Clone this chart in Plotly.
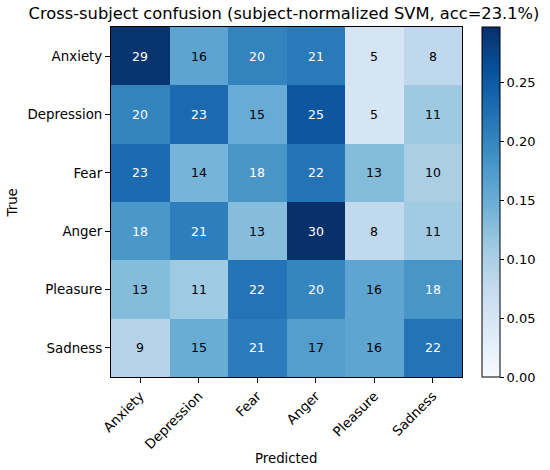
import plotly.graph_objects as go

classes = ["Anxiety", "Depression", "Fear", "Anger", "Pleasure", "Sadness"]
counts = [
    [29, 16, 20, 21, 5, 8],
    [20, 23, 15, 25, 5, 11],
    [23, 14, 18, 22, 13, 10],
    [18, 21, 13, 30, 8, 11],
    [13, 11, 22, 20, 16, 18],
    [9, 15, 21, 17, 16, 22],
]
title_text = "Cross-subject confusion (subject-normalized SVM, acc=23.1%)"
x_label = "Predicted"
y_label = "True"
cbar_ticks = [0.0, 0.05, 0.10, 0.15, 0.20, 0.25]

z = [[c / sum(row) for c in row] for row in counts]
zmax = max(max(r) for r in z)
zmin_val = min(min(r) for r in z)
thresh = (zmax + zmin_val) / 2

blues = ["#f7fbff", "#deebf7", "#c6dbef", "#9ecae1", "#6baed6",
         "#4292c6", "#2171b5", "#08519c", "#08306b"]
cscale = [[i / (len(blues) - 1), c] for i, c in enumerate(blues)]

FONT = "DejaVu Sans"
W, H = 550, 470
L, T = 111, 27
R = W - 462
B = H - 377
PW, PH = W - L - R, H - T - B

fig = go.Figure()
fig.add_trace(go.Heatmap(
    z=z, x=classes, y=classes, colorscale=cscale, zmin=0, zmax=zmax,
    xgap=0, ygap=0, hoverinfo="skip",
    colorbar=dict(
        x=(482 - L) / PW, xanchor="left", xpad=0, ypad=0,
        y=0.5, yanchor="middle",
        len=1, lenmode="fraction", thickness=18,
        outlinewidth=1, outlinecolor="black",
        tickvals=cbar_ticks, tickformat=".2f", ticks="outside", ticklen=4,
        tickcolor="black", tickwidth=1,
        tickfont=dict(family=FONT, size=13, color="black"),
    ),
))

for i, row in enumerate(counts):
    for j, c in enumerate(row):
        fig.add_annotation(
            x=classes[j], y=classes[i], text=str(c), showarrow=False,
            font=dict(family=FONT, size=12.5,
                      color="white" if z[i][j] > thresh else "black"),
        )

# axis titles
fig.add_annotation(text=x_label, xref="paper", yref="paper",
                   x=(286 - L) / PW, y=-(458.5 - 377) / PH,
                   showarrow=False, xanchor="center", yanchor="middle",
                   font=dict(family=FONT, size=13.3, color="black"))
fig.add_annotation(text=y_label, xref="paper", yref="paper",
                   x=-(L - 11.5) / PW, y=1 - (203 - T) / PH, textangle=-90,
                   showarrow=False, xanchor="center", yanchor="middle",
                   font=dict(family=FONT, size=13.3, color="black"))

fig.update_layout(
    width=W, height=H,
    margin=dict(l=L, r=R, t=T, b=B, autoexpand=False),
    paper_bgcolor="white", plot_bgcolor="white",
    font=dict(family=FONT, color="black"),
    title=dict(text=title_text, x=284 / W, xanchor="center", xref="container",
               y=1 - 13 / H, yanchor="middle", yref="container",
               font=dict(family=FONT, size=16.3, color="black")),
    xaxis=dict(
        automargin=False,
        tickangle=-45, ticks="outside", ticklen=5, tickcolor="black", tickwidth=1,
        showline=True, linecolor="black", linewidth=1, mirror=True,
        tickfont=dict(family=FONT, size=13.4), showgrid=False, zeroline=False,
    ),
    yaxis=dict(
        automargin=False,
        autorange="reversed", ticks="outside", ticklen=5, tickcolor="black", tickwidth=1,
        showline=True, linecolor="black", linewidth=1, mirror=True,
        tickfont=dict(family=FONT, size=13.4), showgrid=False, zeroline=False,
    ),
)

fig.write_html(
    "out.html",
    config={"displayModeBar": False},
    post_script="document.body.style.margin='0';document.body.style.overflow='hidden';",
)
